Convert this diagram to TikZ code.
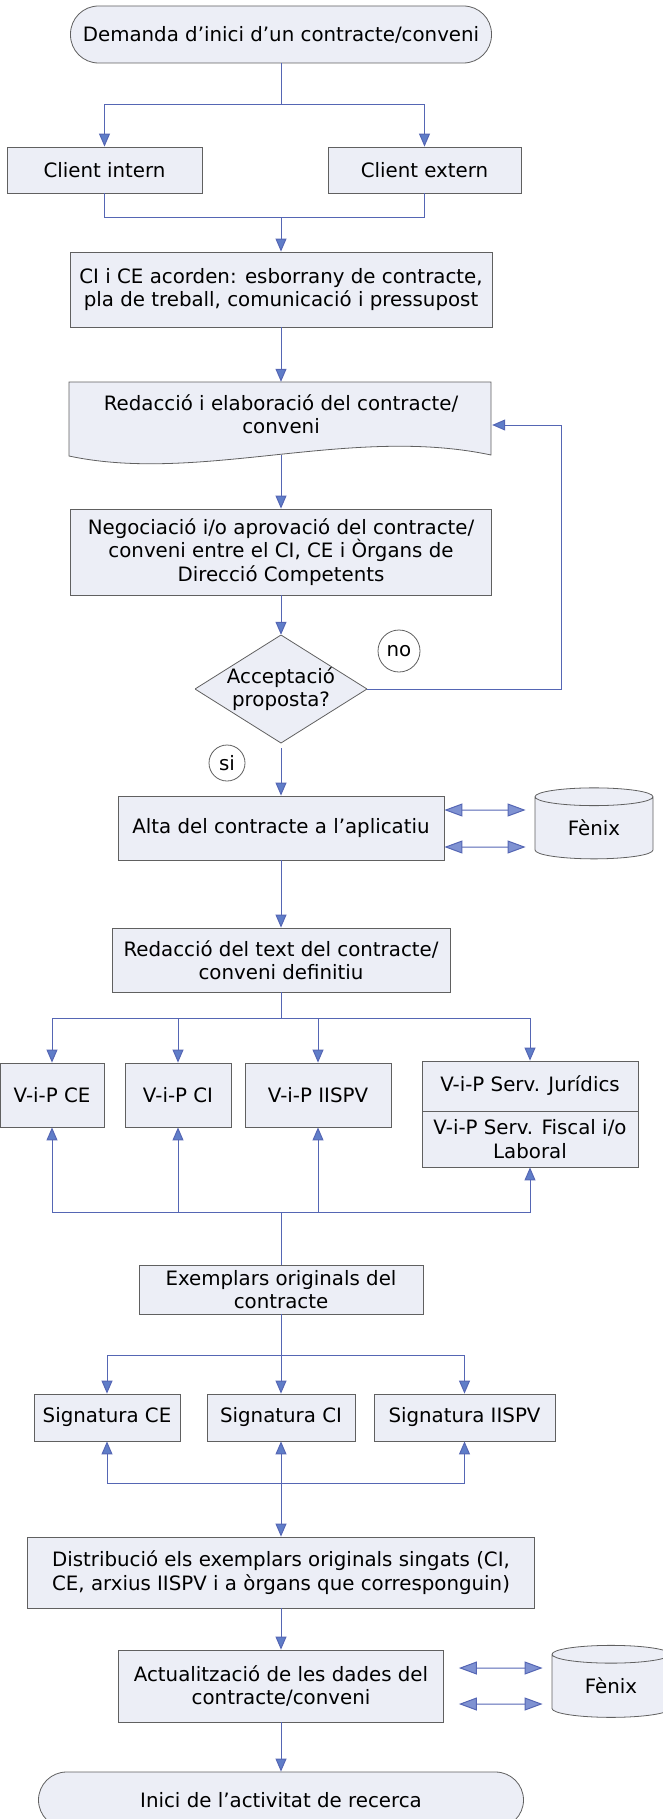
\documentclass[tikz,border=0pt]{standalone}
\usepackage{fontspec}
\setmainfont{DejaVu Sans}
\usepackage{tikz}
\usetikzlibrary{arrows.meta,shapes.geometric}
\usepackage{xcolor}

\definecolor{flowblue}{HTML}{5566B4}
\definecolor{tipblue}{HTML}{5F7DC8}
\definecolor{tippale}{HTML}{7F92D2}
\definecolor{boxfill}{HTML}{ECEEF6}
\definecolor{boxline}{HTML}{606060}
\newcommand{\boxfont}{\fontsize{19.8}{23.5}\selectfont}

\tikzset{
  boxsize/.style 2 args={minimum width=#1pt, minimum height=#2pt},
  procbox/.style={draw=boxline, fill=boxfill, line width=0.8pt, align=center, font=\boxfont, inner sep=1pt},
  termbox/.style={procbox, rounded corners=28pt},
  doctext/.style={align=center, font=\boxfont, inner sep=1pt},
  decision/.style={align=center, font=\boxfont, inner sep=0pt, boxsize={172}{108},
    path picture={\filldraw[draw=boxline, fill=boxfill, line width=0.8pt]
      (path picture bounding box.north) -- (path picture bounding box.east) --
      (path picture bounding box.south) -- (path picture bounding box.west) -- cycle;}},
  tagcirc/.style={circle, draw=boxline, fill=white, line width=0.8pt, font=\boxfont, inner sep=0pt},
  dbcyl/.style={cylinder, shape border rotate=90, shape aspect=0.34, draw=boxline, fill=boxfill, line width=0.8pt, font=\boxfont, inner sep=0pt},
  link/.style={draw=flowblue, line width=1pt},
  flow/.style={link, ->},
  dblflow/.style={link, >={Triangle[width=13pt,length=18pt,fill=tippale]}, <->}
}

\begin{document}
\begin{tikzpicture}[x=1pt,y=-1pt,>={Triangle[width=11pt,length=13pt,fill=tipblue]}]
\useasboundingbox (0,0) rectangle (663,1819);
%%%BOXES
\node[termbox, boxsize={421}{57}] (start) at (281,34.5) {Demanda d’inici d’un contracte/conveni};
\node[procbox, boxsize={195}{46}] (cint) at (104.5,170) {Client intern};
\node[procbox, boxsize={193}{46}] (cext) at (424.5,170) {Client extern};
\node[procbox, boxsize={422}{75}] (acord) at (281,289.5) {CI i CE acorden: esborrany de contracte,\\pla de treball, comunicació i pressupost};
% document shape
\filldraw[draw=boxline, fill=boxfill, line width=0.8pt] (69,382) -- (491,382) -- (491,455)
  .. controls (350,425) and (200,484) .. (69,456) -- cycle;
\node[doctext, boxsize={422}{64}] (redac) at (281,414) {Redacció i elaboració del contracte/\\conveni};
\node[procbox, boxsize={421}{86}] (nego) at (281,552) {Negociació i/o aprovació del contracte/\\conveni entre el CI, CE i Òrgans de\\Direcció Competents};
\node[decision] (dec) at (281,689) {Acceptació\\proposta?};
\node[tagcirc, minimum size=42pt] (no) at (399,651) {no};
\node[tagcirc, minimum size=36pt] (si) at (227,763) {si};
\node[procbox, boxsize={326}{64}] (alta) at (281,828) {Alta del contracte a l’aplicatiu};
\node[dbcyl, boxsize={118}{71}] (fenixA) at (594,828) {Fènix};
\node[procbox, boxsize={338}{64}] (defin) at (281,960) {Redacció del text del contracte/\\conveni definitiu};
\node[procbox, boxsize={104}{64}] (vipce) at (52,1095) {V-i-P CE};
\node[procbox, boxsize={106}{64}] (vipci) at (178,1095) {V-i-P CI};
\node[procbox, boxsize={146}{64}] (vipii) at (318,1095) {V-i-P IISPV};
\node[procbox, boxsize={216}{50}] (servj) at (530,1086) {V-i-P Serv. Jurídics};
\node[procbox, boxsize={216}{56}] (servf) at (530,1139) {V-i-P Serv. Fiscal i/o\\Laboral};
\node[procbox, boxsize={284}{49}] (exemp) at (281,1289.5) {Exemplars originals del\\contracte};
\node[procbox, boxsize={146}{47}] (sigce) at (107,1417.5) {Signatura CE};
\node[procbox, boxsize={148}{47}] (sigci) at (281,1417.5) {Signatura CI};
\node[procbox, boxsize={181}{47}] (sigii) at (464.5,1417.5) {Signatura IISPV};
\node[procbox, boxsize={507}{71}] (distr) at (281,1572.5) {Distribució els exemplars originals singats (CI,\\CE, arxius IISPV i a òrgans que corresponguin)};
\node[procbox, boxsize={325}{72}] (actual) at (281,1686) {Actualització de les dades del\\contracte/conveni};
\node[dbcyl, boxsize={118}{72}] (fenixB) at (611,1686) {Fènix};
\node[termbox, boxsize={485}{56}] (inici) at (281,1800) {Inici de l’activitat de recerca};

%%%CONNECTORS
\coordinate (splitA) at (281,105);
\coordinate (mergeA) at (281,218);
\coordinate (loopA) at (561,425);
\coordinate (splitB) at (281,1018);
\coordinate (joinB) at (281,1212);
\coordinate (splitC) at (281,1355);
\coordinate (joinC) at (281,1483);

\draw[link] (start) -- (splitA);
\draw[flow] (splitA) -| (cint);
\draw[flow] (splitA) -| (cext);
\draw[link] (cint) |- (mergeA);
\draw[link] (cext) |- (mergeA);
\draw[flow] (mergeA) -- (acord);
\draw[flow] (acord) -- (redac);
\draw[flow] ([yshift=-9pt]redac.south) -- (nego);
\draw[flow] (nego) -- (dec);
\draw[flow] (dec.east) -| (loopA) -- (loopA -| redac.east);
\draw[flow, shorten <=5pt] (dec) -- (alta);
\draw[dblflow, shorten >=9pt] ([yshift=18pt]alta.east) -- ([yshift=18pt]fenixA.west);
\draw[dblflow, shorten >=9pt] ([yshift=-19pt]alta.east) -- ([yshift=-19pt]fenixA.west);
\draw[flow] (alta) -- (defin);
\draw[link] (defin) -- (splitB);
\foreach \b in {vipce,vipci,vipii,servj} \draw[flow] (splitB) -| (\b);
\draw[link] (exemp) -- (joinB);
\foreach \b in {vipce,vipci,vipii,servf} \draw[flow] (joinB) -| (\b);
\draw[flow] (exemp) -- (sigci);
\draw[flow] (splitC) -| (sigce);
\draw[flow] (splitC) -| (sigii);
\draw[flow, <->] (sigci) -- (distr);
\draw[flow] (joinC) -| (sigce);
\draw[flow] (joinC) -| (sigii);
\draw[flow] (distr) -- (actual);
\draw[dblflow, shorten <=15pt, shorten >=9pt] ([yshift=18pt]actual.east) -- ([yshift=18pt]fenixB.west);
\draw[dblflow, shorten <=15pt, shorten >=9pt] ([yshift=-18pt]actual.east) -- ([yshift=-18pt]fenixB.west);
\draw[flow] (actual) -- (inici);
\end{tikzpicture}
\end{document}
